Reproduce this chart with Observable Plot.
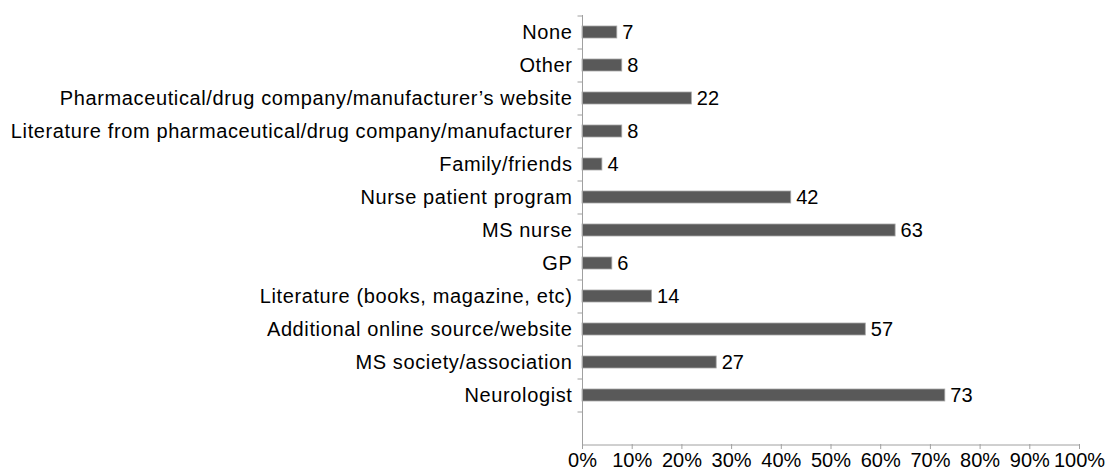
<!DOCTYPE html>
<html>
<head>
<meta charset="utf-8">
<script src="https://cdn.jsdelivr.net/npm/d3@7"></script>
<script src="https://cdn.jsdelivr.net/npm/@observablehq/plot@0.6"></script>
<style>
  html, body { margin: 0; padding: 0; background: #fff; }
  #chart svg { display: block; }
  #chart svg g[aria-label="y-axis tick label"] text { letter-spacing: 0.62px; }
</style>
</head>
<body>
<div id="chart"></div>
<script>
const categories = [
  "None",
  "Other",
  "Pharmaceutical/drug company/manufacturer’s website",
  "Literature from pharmaceutical/drug company/manufacturer",
  "Family/friends",
  "Nurse patient program",
  "MS nurse",
  "GP",
  "Literature (books, magazine, etc)",
  "Additional online source/website",
  "MS society/association",
  "Neurologist"
];
const values = [7, 8, 22, 8, 4, 42, 63, 6, 14, 57, 27, 73];
const xTicks = [0, 10, 20, 30, 40, 50, 60, 70, 80, 90, 100];

const data = categories.map((c, i) => ({category: c, value: values[i]}));
const yDomain = [...categories, " "];

const W = 1110, H = 472;
const mTop = 15, mBottom = 28, mLeft = 582, mRight = 31;
const step = (H - mTop - mBottom) / yDomain.length;
const fontFam = "Liberation Sans, Arial, sans-serif";
const fs = 20;

const chart = Plot.plot({
  width: W,
  height: H,
  marginTop: mTop,
  marginBottom: mBottom,
  marginLeft: mLeft,
  marginRight: mRight,
  style: {fontFamily: fontFam, fontSize: fs + "px", color: "#000", background: "#fff"},
  x: {domain: [0, 100]},
  y: {domain: yDomain, paddingInner: 0.64, paddingOuter: 0.32},
  marks: [
    Plot.barX(data, {x: "value", y: "category", fill: "#595959", stroke: "#a6a6a6", strokeWidth: 0.8}),
    Plot.text(data, {x: "value", y: "category", text: d => String(d.value), textAnchor: "start", dx: 5, fill: "#000", fontSize: fs}),
    // y axis line
    Plot.ruleX([0], {stroke: "#a0a0a0", strokeWidth: 1}),
    // y axis ticks at band boundaries
    Plot.ruleY(yDomain, {y: d => d, x1: -0.9, x2: 0, dy: -step / 2, stroke: "#a0a0a0", strokeWidth: 1}),
    // x axis line
    Plot.ruleY([" "], {y: d => d, x1: 0, x2: 100, dy: step / 2, stroke: "#a0a0a0", strokeWidth: 1}),
    Plot.axisY({tickSize: 0, tickPadding: 10, fontSize: fs, fill: "#000", label: null, tickFormat: d => d.trim() ? d : ""}),
    Plot.axisX({ticks: xTicks, tickSize: 5, tickPadding: 3, stroke: "#a0a0a0", fontSize: fs, fill: "#000", tickFormat: d => d + "%", label: null})
  ]
});
document.getElementById("chart").appendChild(chart);
</script>
</body>
</html>
